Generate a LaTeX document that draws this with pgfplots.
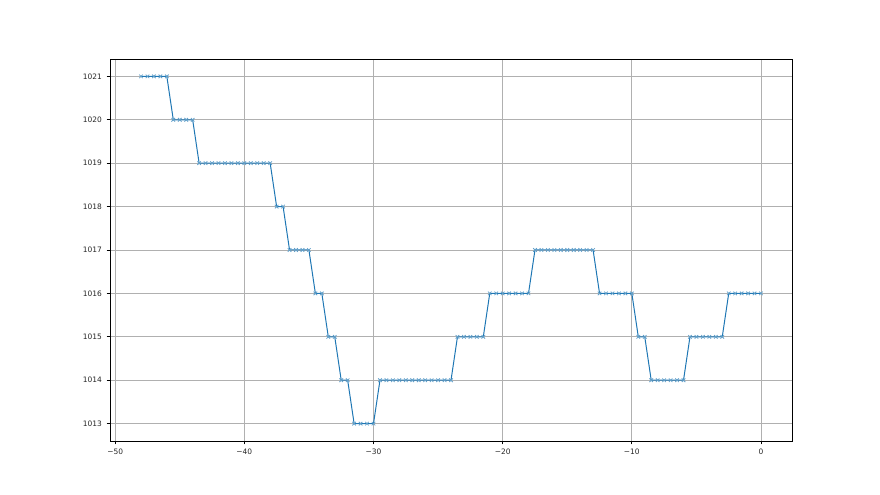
\documentclass[border=0pt]{standalone}
\usepackage{fontspec}
\setmainfont{DejaVu Sans}
\usepackage{pgfplots}
\pgfplotsset{compat=1.18}
\definecolor{mplblue}{HTML}{1F77B4}
\definecolor{mplgrid}{HTML}{B0B0B0}

\pgfplotstableread{
x y
-48 1021
-47.5 1021
-47 1021
-46.5 1021
-46 1021
-45.5 1020
-45 1020
-44.5 1020
-44 1020
-43.5 1019
-43 1019
-42.5 1019
-42 1019
-41.5 1019
-41 1019
-40.5 1019
-40 1019
-39.5 1019
-39 1019
-38.5 1019
-38 1019
-37.5 1018
-37 1018
-36.5 1017
-36 1017
-35.5 1017
-35 1017
-34.5 1016
-34 1016
-33.5 1015
-33 1015
-32.5 1014
-32 1014
-31.5 1013
-31 1013
-30.5 1013
-30 1013
-29.5 1014
-29 1014
-28.5 1014
-28 1014
-27.5 1014
-27 1014
-26.5 1014
-26 1014
-25.5 1014
-25 1014
-24.5 1014
-24 1014
-23.5 1015
-23 1015
-22.5 1015
-22 1015
-21.5 1015
-21 1016
-20.5 1016
-20 1016
-19.5 1016
-19 1016
-18.5 1016
-18 1016
-17.5 1017
-17 1017
-16.5 1017
-16 1017
-15.5 1017
-15 1017
-14.5 1017
-14 1017
-13.5 1017
-13 1017
-12.5 1016
-12 1016
-11.5 1016
-11 1016
-10.5 1016
-10 1016
-9.5 1015
-9 1015
-8.5 1014
-8 1014
-7.5 1014
-7 1014
-6.5 1014
-6 1014
-5.5 1015
-5 1015
-4.5 1015
-4 1015
-3.5 1015
-3 1015
-2.5 1016
-2 1016
-1.5 1016
-1 1016
-0.5 1016
0 1016
}\pressure

\begin{document}
\begin{tikzpicture}[x=1bp,y=1bp]
\path (0,0) rectangle (880,495);
\begin{axis}[
  at={(110bp,54bp)}, anchor=south west,
  width=682bp, height=382bp, scale only axis,
  xmin=-50.4, xmax=2.4, ymin=1012.6, ymax=1021.4,
  xtick={-50,-40,-30,-20,-10,0},
  xticklabels={−50,−40,−30,−20,−10,0},
  ytick={1013,1014,1015,1016,1017,1018,1019,1020,1021},
  yticklabel style={/pgf/number format/.cd, fixed, 1000 sep={}},
  /pgf/number format/assume math mode=true,
  tick label style={font=\fontsize{7.5}{9}\selectfont, text=black!85},
  tick align=outside, tick pos=left,
  major tick length=3.5bp,
  every tick/.style={black, line width=0.8bp},
  axis line style={black, line width=0.8bp},
  grid=major, grid style={mplgrid, line width=0.8bp},
  xticklabel shift=1bp, yticklabel shift=1bp,
]
\addplot[mplblue, line width=1bp, mark=x, mark size=2.5bp,
  mark options={mplblue!70, line width=0.8bp}] table[x=x,y=y] {\pressure};
\end{axis}
\end{tikzpicture}
\end{document}
